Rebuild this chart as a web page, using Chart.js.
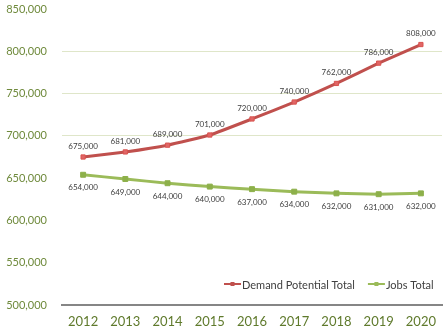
<!DOCTYPE html>
<html>
<head>
<meta charset="utf-8">
<script src="https://cdn.jsdelivr.net/npm/chart.js@4/dist/chart.umd.min.js"></script>
<style>
  html, body { margin: 0; padding: 0; background: #fff; }
  #wrap { width: 447px; height: 334px; position: relative; }
</style>
</head>
<body>
<div id="wrap"><canvas id="c" width="447" height="334"></canvas></div>
<script>
const years = ['2012', '2013', '2014', '2015', '2016', '2017', '2018', '2019', '2020'];
const demandPotential = [675000, 681000, 689000, 701000, 720000, 740000, 762000, 786000, 808000];
const jobsTotal = [654000, 649000, 644000, 640000, 637000, 634000, 632000, 631000, 632000];
const yTicks = [500000, 550000, 600000, 650000, 700000, 750000, 800000, 850000];
const gridValues = [700000, 750000, 800000];

const fmt = v => v.toLocaleString('en-US');

// Value labels: above the demand line, below the jobs line
const valueLabels = {
  id: 'valueLabels',
  afterDatasetsDraw(chart) {
    const ctx = chart.ctx;
    ctx.save();
    ctx.font = '8px Lato, "Liberation Sans", sans-serif';
    ctx.fillStyle = '#404040';
    ctx.textAlign = 'center';
    ctx.textBaseline = 'middle';
    chart.data.datasets.forEach((ds, i) => {
      const meta = chart.getDatasetMeta(i);
      meta.data.forEach((pt, j) => {
        const dy = i === 0 ? -11 : 13;
        ctx.fillText(fmt(ds.data[j]), pt.x, pt.y + dy);
      });
    });
    ctx.restore();
  }
};

// Legend drawn inside the plot, near the bottom right
const innerLegend = {
  id: 'innerLegend',
  afterDraw(chart) {
    const ctx = chart.ctx;
    const y = chart.chartArea.bottom - 21;
    ctx.save();
    ctx.font = '11px Lato, "Liberation Sans", sans-serif';
    ctx.textBaseline = 'middle';
    ctx.textAlign = 'left';
    let x = 224;
    chart.data.datasets.forEach((ds, i) => {
      ctx.strokeStyle = ds.borderColor;
      ctx.lineWidth = 2;
      ctx.beginPath();
      ctx.moveTo(x, y);
      ctx.lineTo(x + 17, y);
      ctx.stroke();
      ctx.fillStyle = ds.borderColor;
      ctx.fillRect(x + 6.5, y - 2, 4, 4);
      ctx.fillStyle = '#404040';
      ctx.fillText(ds.label, x + 18, y + 1);
      x += 18 + ctx.measureText(ds.label).width + 13;
    });
    ctx.restore();
  }
};

new Chart(document.getElementById('c'), {
  type: 'line',
  data: {
    labels: years,
    datasets: [
      {
        label: 'Demand Potential Total',
        data: demandPotential,
        borderColor: '#c0504d',
        backgroundColor: '#e06666',
        borderWidth: 3,
        pointStyle: 'rect',
        pointRadius: 3,
        pointBorderWidth: 1,
        pointBorderColor: '#d9534f',
        tension: 0.15
      },
      {
        label: 'Jobs Total',
        data: jobsTotal,
        borderColor: '#9bbb59',
        backgroundColor: '#8db04a',
        borderWidth: 3,
        pointStyle: 'rect',
        pointRadius: 3.5,
        pointBorderWidth: 1,
        pointBorderColor: '#8db04a',
        tension: 0.15
      }
    ]
  },
  options: {
    responsive: false,
    animation: false,
    layout: { padding: { top: 0, right: 0, left: 0, bottom: 0 } },
    plugins: {
      legend: { display: false },
      tooltip: { enabled: false }
    },
    scales: {
      x: {
        offset: true,
        afterFit(scale) { scale.height = 29; },
        grid: { display: false, drawTicks: false },
        border: { display: true, color: '#868686', width: 2 },
        ticks: {
          color: '#5f7a2c',
          font: { family: 'Lato, "Liberation Sans", sans-serif', size: 13 },
          padding: 9,
          maxRotation: 0
        }
      },
      y: {
        min: 500000,
        max: 850000,
        afterFit(scale) { scale.width = 62; scale.paddingTop = 9; },
        afterBuildTicks(scale) { scale.ticks = yTicks.map(v => ({ value: v })); },
        grid: {
          drawTicks: false,
          color: c => gridValues.includes(c.tick && c.tick.value) ? '#dfe6c9' : 'rgba(0,0,0,0)',
          lineWidth: 1
        },
        border: { display: false },
        ticks: {
          color: '#6f8a3c',
          font: { family: 'Lato, "Liberation Sans", sans-serif', size: 11 },
          padding: 15,
          callback: v => fmt(v)
        }
      }
    }
  },
  plugins: [valueLabels, innerLegend]
});
</script>
</body>
</html>
